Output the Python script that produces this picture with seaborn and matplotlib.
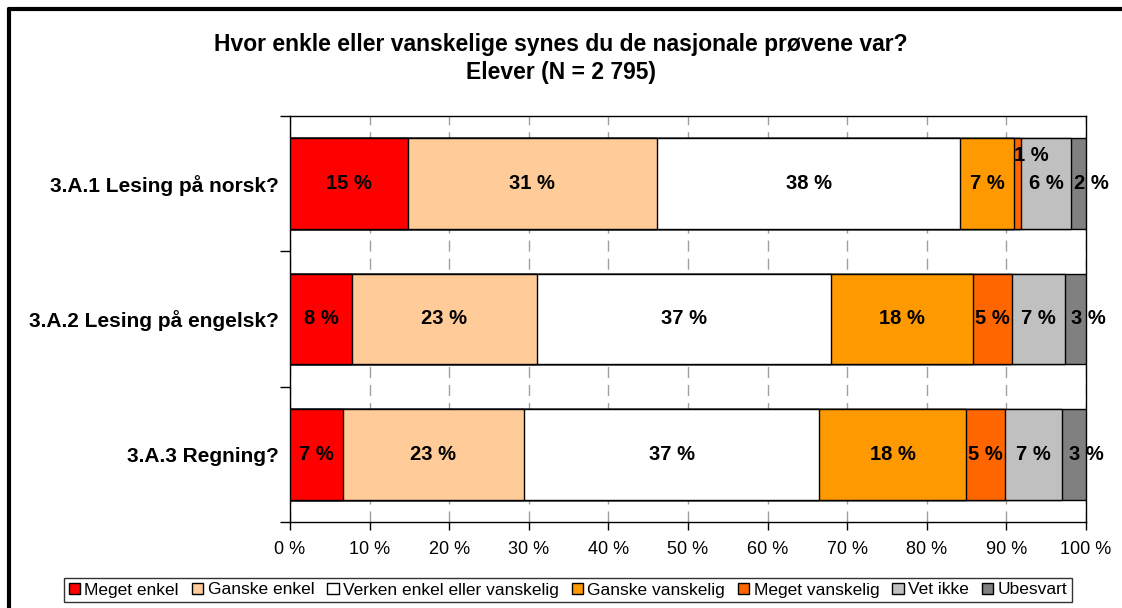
import matplotlib
matplotlib.use("Agg")
import matplotlib.pyplot as plt
import seaborn as sns
import numpy as np
import pandas as pd
from matplotlib.patches import Patch
from matplotlib.lines import Line2D

# data (percent of students)
questions = ["3.A.1 Lesing på norsk?", "3.A.2 Lesing på engelsk?", "3.A.3 Regning?"]
answers = ["Meget enkel", "Ganske enkel", "Verken enkel eller vanskelig",
           "Ganske vanskelig", "Meget vanskelig", "Vet ikke", "Ubesvart"]
meget_enkel = [14.8, 7.8, 6.6]
ganske_enkel = [31.3, 23.2, 22.8]
verken = [38.1, 37.0, 37.1]
ganske_vanskelig = [6.8, 17.8, 18.4]
meget_vanskelig = [0.85, 4.9, 4.9]
vet_ikke = [6.3, 6.7, 7.2]
ubesvart = [1.9, 2.6, 3.0]

colors = ["#FF0000", "#FFCC99", "#FFFFFF", "#FF9900", "#FF6600", "#C0C0C0", "#808080"]


def setup_plot_style():
    sns.set_theme(style="white")
    plt.rcParams['font.family'] = ['Liberation Sans', 'DejaVu Sans']
    plt.rcParams['text.color'] = 'black'
    plt.rcParams['xtick.color'] = 'black'
    plt.rcParams['ytick.color'] = 'black'
    plt.rcParams['axes.labelcolor'] = 'black'
    plt.rcParams['axes.edgecolor'] = 'black'
    plt.rcParams['axes.linewidth'] = 1.0


setup_plot_style()

df = pd.DataFrame({"question": questions, "Meget enkel": meget_enkel,
                   "Ganske enkel": ganske_enkel,
                   "Verken enkel eller vanskelig": verken,
                   "Ganske vanskelig": ganske_vanskelig,
                   "Meget vanskelig": meget_vanskelig,
                   "Vet ikke": vet_ikke, "Ubesvart": ubesvart})
cum = df[answers].cumsum(axis=1)

fig = plt.figure(figsize=(11.22, 6.08), dpi=100)
ax = fig.add_axes([290 / 1122, 1 - 522 / 608, 796 / 1122, 406 / 608])

# stacked bars: draw cumulative totals from the widest to the narrowest
for ans, col in reversed(list(zip(answers, colors))):
    sns.barplot(x=cum[ans], y=df["question"], orient="h", color=col,
                saturation=1, edgecolor="black", linewidth=1.0,
                width=0.67, ax=ax, zorder=3)

# value labels
for i, q in enumerate(questions):
    left = 0
    for j, ans in enumerate(answers):
        v = df.loc[i, ans]
        xc = left + v / 2
        dx, dy = 0, 0
        if v < 1.5:
            dx, dy = 10, 20
        elif j == len(answers) - 1:
            dx = 9
        ax.annotate(f"{int(round(v))} %", (xc, i), xytext=(dx, dy),
                    textcoords="offset points", ha="center", va="center",
                    fontsize=14.5, fontweight="bold", color="black", zorder=5)
        left += v

ax.set_xlim(0, 100)
ax.set_ylim(2.5, -0.5)
ax.set_xticks(np.arange(0, 101, 10))
ax.set_xticklabels([f"{t} %" for t in range(0, 101, 10)], fontsize=13)
ax.set_yticks(range(len(questions)))
ax.set_yticklabels(questions, fontsize=15, fontweight="bold")
ax.set_yticks([-0.5, 0.5, 1.5, 2.5], minor=True)
ax.tick_params(axis="y", which="major", length=0, pad=8)
ax.tick_params(axis="y", which="minor", length=7, width=1, color="black", direction="out", left=True)
ax.tick_params(axis="x", which="major", length=6, width=1, color="black", direction="out", bottom=True, pad=8)
ax.set_xlabel("")
ax.set_ylabel("")
ax.xaxis.grid(True, linestyle=(0, (8, 5)), color="#A0A0A0", linewidth=1)
ax.set_axisbelow(True)
for s in ax.spines.values():
    s.set_color("black")

fig.text(0.5, 1 - 44 / 608, "Hvor enkle eller vanskelige synes du de nasjonale prøvene var?",
         ha="center", va="center", fontsize=16.5, fontweight="bold")
fig.text(0.5, 1 - 72 / 608, "Elever (N = 2 795)",
         ha="center", va="center", fontsize=16.5, fontweight="bold")

handles = [Patch(facecolor=c, edgecolor="black", linewidth=1) for c in colors]
leg = fig.legend(handles, answers, loc="center", bbox_to_anchor=(568 / 1122, 1 - 590 / 608),
                 ncol=7, fontsize=12.5, handlelength=0.65, handleheight=0.65,
                 handletextpad=0.25, columnspacing=0.75, borderpad=0.25,
                 borderaxespad=0, frameon=True, fancybox=False, edgecolor="black")
leg.get_frame().set_linewidth(1)

# outer frame
fig.add_artist(Line2D([9 / 1122, 1.0], [1 - 9 / 608, 1 - 9 / 608], color="black", lw=3, transform=fig.transFigure))
fig.add_artist(Line2D([9 / 1122, 9 / 1122], [0.0, 1 - 9 / 608], color="black", lw=3, transform=fig.transFigure))

fig.savefig("out.png", dpi=100)
